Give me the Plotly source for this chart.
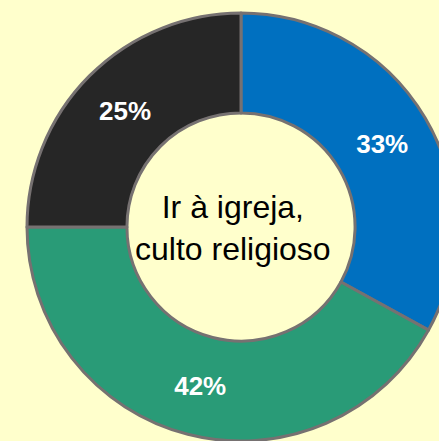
import plotly.graph_objects as go

categories = ["Categoria A", "Categoria B", "Categoria C"]
values = [33, 42, 25]
colors = ["#0070C0", "#299B77", "#262626"]
center_text = "Ir à igreja,<br>culto religioso"

W, H = 482, 441

fig = go.Figure(
    go.Pie(
        labels=categories,
        values=values,
        sort=False,
        direction="clockwise",
        rotation=0,
        hole=0.533,
        marker=dict(colors=colors, line=dict(color="#767171", width=3)),
        textinfo="percent",
        texttemplate="%{percent:.0%}",
        textposition="inside",
        insidetextorientation="horizontal",
        textfont=dict(family="Liberation Sans, Arial, sans-serif", size=26, color="white", weight="bold"),
        domain=dict(x=[27 / W, 455 / W], y=[0, 428 / H]),
        showlegend=False,
        hoverinfo="none",
    )
)

fig.add_annotation(
    text=center_text,
    x=233 / W, y=1 - 227.5 / H,
    xref="paper", yref="paper",
    xanchor="center", yanchor="middle",
    showarrow=False,
    font=dict(family="Liberation Sans, Arial, sans-serif", size=32, color="black"),
)

fig.update_layout(
    width=W, height=H,
    margin=dict(l=0, r=0, t=0, b=0),
    paper_bgcolor="#FFFFCC",
    plot_bgcolor="#FFFFCC",
)

fig.write_html(
    "out.html",
    config={"displayModeBar": False},
    post_script="document.documentElement.style.overflow='hidden';document.body.style.overflow='hidden';document.body.style.margin='0';document.body.style.background='#FFFFCC';",
)
